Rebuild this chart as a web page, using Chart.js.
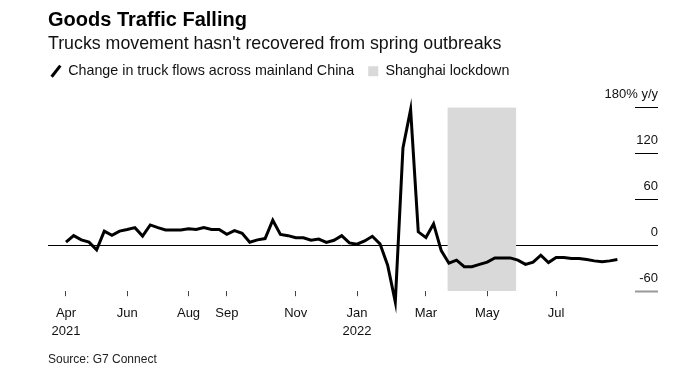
<!DOCTYPE html>
<html>
<head>
<meta charset="utf-8">
<script src="https://cdn.jsdelivr.net/npm/chart.js@4.4.1/dist/chart.umd.min.js"></script>
<style>
  html, body { margin: 0; padding: 0; background: #fff; }
  #wrap { width: 675px; height: 387px; }
</style>
</head>
<body>
<div id="wrap"><canvas id="graphCanvas"></canvas></div>
<script>
// weekly y/y change in truck flows, first point = first week of Apr 2021
var flows = [4, 12.5, 7, 4, -6, 18.5, 13, 18.5, 20.5, 23,
             12, 26.5, 23, 20, 20, 20, 21.5, 20.5, 23, 20.5,
             20.5, 14.3, 19, 15.5, 4, 7, 8.7, 32.6, 14.2, 12.5,
             9.8, 9.8, 6.5, 8, 3.7, 6.5, 12.5, 3, 1.3, 5.6,
             11.7, 1.8, -26, -74, 127, 177, 17.5, 10, 28, -7,
             -23.5, -19.5, -28, -28, -25, -22, -16.5, -16.5, -16.5, -19.5,
             -25, -22, -13, -22.6, -16, -16, -17.4, -17.4, -18.7, -20.4,
             -21.7, -20.4, -18.7];

// week index where each month label sits
var tickWeeks = [0, 8, 16, 21, 30, 38, 47, 55, 64];
var tickNames = [['Apr', '2021'], 'Jun', 'Aug', 'Sep', 'Nov', ['Jan', '2022'], 'Mar', 'May', 'Jul'];

var yTicks = [-60, 0, 60, 120, 180];

// Shanghai lockdown, start / end in week index
var lockdownWeeks = [49.8, 58.8];

var FONT = "'Liberation Sans', Arial, sans-serif";
Chart.defaults.font.family = FONT;
Chart.defaults.color = '#222';

var lineData = flows.map(function (v, i) { return {x: i, y: v}; });
var shadeData = lockdownWeeks.map(function (w) { return {x: w, y: yTicks[yTicks.length - 1]}; });

// nudge the legend up/left so it sits tight under the subtitle
var legendNudge = {
    id: 'legendNudge',
    afterLayout: function (chart) {
        var lg = chart.legend;
        if (!lg) return;
        lg.left -= 11;
        lg.right -= 11;
        lg.top -= 19;
        lg.bottom -= 19;
    }
};

var chartdata = {
    datasets: [
        {
            label: 'Change in truck flows across mainland China',
            data: lineData,
            borderColor: '#000',
            backgroundColor: '#000',
            borderWidth: 3,
            pointRadius: 0,
            pointStyle: 'line',
            pointRotation: -52,
            pointBorderWidth: 3,
            tension: 0,
            clip: false,
            order: 0
        },
        {
            label: 'Shanghai lockdown',
            data: shadeData,
            borderWidth: 0,
            borderColor: '#d9d9d9',
            backgroundColor: '#d9d9d9',
            fill: 'start',
            pointRadius: 0,
            pointStyle: 'rect',
            pointBorderWidth: 0,
            order: 1
        }
    ]
};

var graphTarget = document.getElementById('graphCanvas');

var lineGraph = new Chart(graphTarget, {
    type: 'line',
    data: chartdata,
    plugins: [legendNudge],
    options: {
        responsive: true,
        maintainAspectRatio: false,
        animation: false,
        events: [],
        layout: { padding: { left: 48, right: 17, top: 8, bottom: 20 } },
        plugins: {
            tooltip: { enabled: false },
            title: {
                display: true,
                text: 'Goods Traffic Falling',
                align: 'start',
                color: '#000',
                font: { size: 20, weight: 'bold' },
                padding: { top: 0, bottom: 1 }
            },
            subtitle: {
                display: true,
                text: "Trucks movement hasn't recovered from spring outbreaks",
                align: 'start',
                color: '#111',
                font: { size: 17.8 },
                padding: { top: 0, bottom: 14.7 }
            },
            legend: {
                display: true,
                align: 'start',
                labels: {
                    usePointStyle: true,
                    boxWidth: 10,
                    boxHeight: 10,
                    color: '#111',
                    font: { size: 14.3 },
                    padding: 14
                }
            }
        },
        scales: {
            x: {
                type: 'linear',
                min: -2.35,
                max: 74.3,
                border: { display: false },
                grid: {
                    drawOnChartArea: false,
                    drawTicks: true,
                    tickLength: 5,
                    tickColor: '#444',
                    tickWidth: 1
                },
                afterBuildTicks: function (scale) {
                    scale.ticks = tickWeeks.map(function (w) { return {value: w}; });
                },
                ticks: {
                    autoSkip: false,
                    maxRotation: 0,
                    padding: 8,
                    color: '#111',
                    font: { size: 13, lineHeight: 1.4 },
                    callback: function (value) {
                        var k = tickWeeks.indexOf(value);
                        return k < 0 ? '' : tickNames[k];
                    }
                },
                title: {
                    display: true,
                    text: 'Source: G7 Connect',
                    align: 'start',
                    color: '#222',
                    font: { size: 12 },
                    padding: { top: 4, bottom: 0 }
                }
            },
            y: {
                position: 'right',
                min: yTicks[0],
                max: yTicks[yTicks.length - 1],
                z: 1,
                border: { display: false },
                afterBuildTicks: function (scale) {
                    scale.ticks = yTicks.map(function (v) { return {value: v}; });
                },
                afterFit: function (scale) {
                    scale.width = 23;
                },
                grid: {
                    drawOnChartArea: true,
                    drawTicks: true,
                    tickLength: 23,
                    color: function (ctx) {
                        return ctx.tick && ctx.tick.value === 0 ? '#000' : 'rgba(0,0,0,0)';
                    },
                    tickColor: function (ctx) {
                        return ctx.tick && ctx.tick.value === yTicks[0] ? '#999' : '#000';
                    },
                    tickWidth: function (ctx) {
                        return ctx.tick && ctx.tick.value === yTicks[0] ? 2 : 1;
                    }
                },
                ticks: {
                    mirror: true,
                    crossAlign: 'near',
                    padding: 23,
                    labelOffset: -13,
                    color: '#111',
                    font: { size: 13 },
                    callback: function (value) {
                        return value === 180 ? '180% y/y' : value;
                    }
                }
            }
        }
    }
});
</script>
</body>
</html>
